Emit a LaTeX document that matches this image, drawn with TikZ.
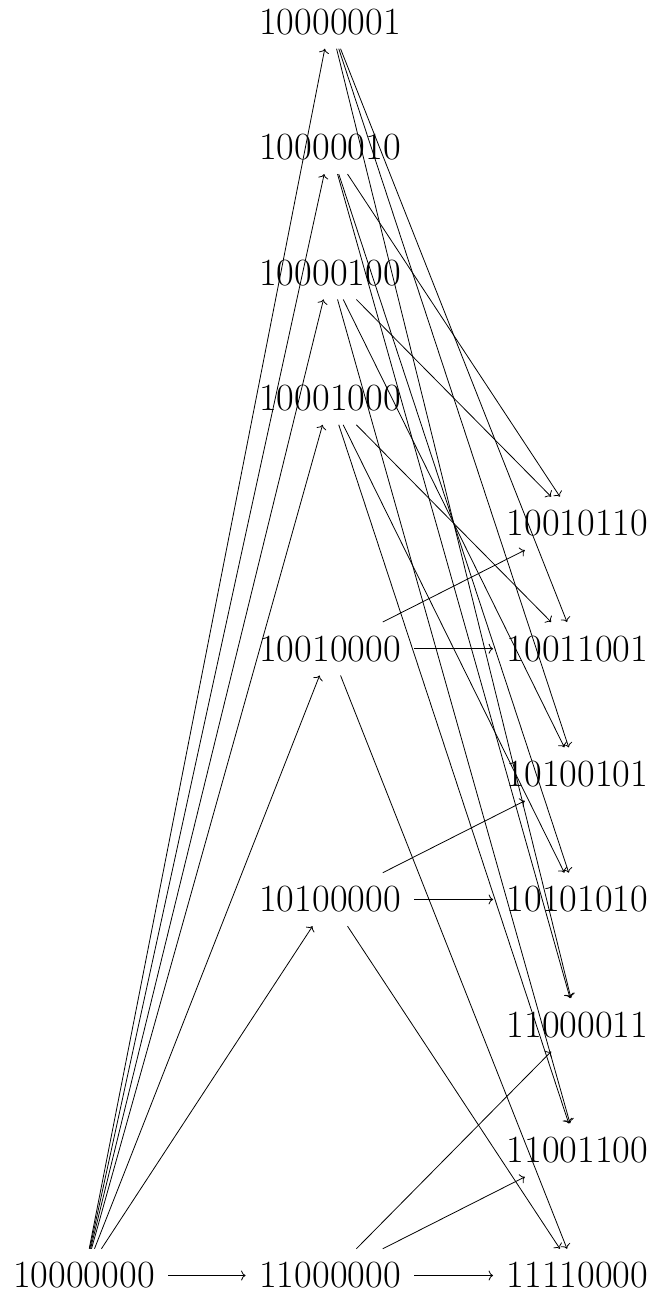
\documentclass[tikz,border=0pt]{standalone}
\usetikzlibrary{arrows.meta}
\begin{document}
\begin{tikzpicture}[x=1pt,y=-1pt,
  lbl/.style={inner sep=13.5pt, font=\fontsize{38.5}{44}\selectfont},
  arr/.style={-{To[length=4.5pt,width=10pt]}, line width=0.8pt}]
\useasboundingbox (0,0) rectangle (652,1294);
\def\yy#1{22+125.35*#1}
\node[lbl] (a0) at (84,{\yy{10}}) {10000000};
\node[lbl] (m1) at (330,{\yy{0}}) {10000001};
\node[lbl] (m2) at (330,{\yy{1}}) {10000010};
\node[lbl] (m3) at (330,{\yy{2}}) {10000100};
\node[lbl] (m4) at (330,{\yy{3}}) {10001000};
\node[lbl] (m5) at (330,{\yy{5}}) {10010000};
\node[lbl] (m6) at (330,{\yy{7}}) {10100000};
\node[lbl] (m7) at (330,{\yy{10}}) {11000000};
\node[lbl] (r1) at (577.5,{\yy{4}}) {10010110};
\node[lbl] (r2) at (577.5,{\yy{5}}) {10011001};
\node[lbl] (r3) at (577.5,{\yy{6}}) {10100101};
\node[lbl] (r4) at (577.5,{\yy{7}}) {10101010};
\node[lbl] (r5) at (577.5,{\yy{8}}) {11000011};
\node[lbl] (r6) at (577.5,{\yy{9}}) {11001100};
\node[lbl] (r7) at (577.5,{\yy{10}}) {11110000};
\foreach \t in {m1,m2,m3,m4,m5,m6,m7} \draw[arr] (a0) -- (\t);
\foreach \s/\t in {m1/r2,m1/r3,m1/r5,
                   m2/r1,m2/r4,m2/r5,
                   m3/r1,m3/r3,m3/r6,
                   m4/r2,m4/r4,m4/r6,
                   m5/r1,m5/r2,m5/r7,
                   m6/r3,m6/r4,m6/r7,
                   m7/r5,m7/r6,m7/r7}
  \draw[arr] (\s) -- (\t);
\end{tikzpicture}
\end{document}
